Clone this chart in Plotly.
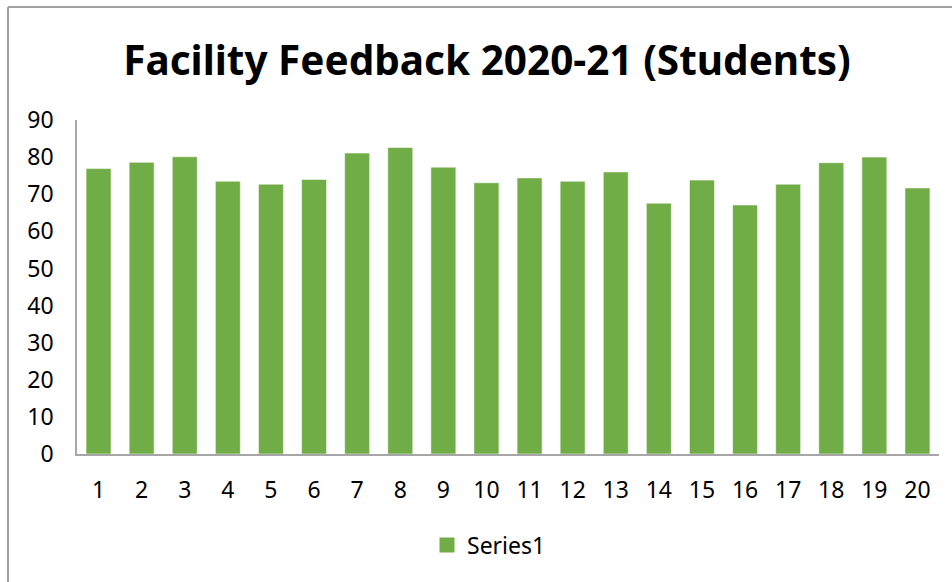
import plotly.graph_objects as go

# Facility feedback scores per item
items = [str(i) for i in range(1, 21)]
scores = [76.9, 78.6, 80.1, 73.5, 72.7, 74.0, 81.1, 82.6, 77.3, 73.1,
          74.4, 73.5, 76.0, 67.6, 73.8, 67.1, 72.7, 78.5, 80.0, 71.7]
y_ticks = [0, 10, 20, 30, 40, 50, 60, 70, 80, 90]

W, H = 952, 582
L, R, T, B = 77, 13, 120, 128
pw, ph = W - L - R, H - T - B


def px_x(p):
    return (p - L) / pw


def px_y(p):
    return (H - B - p) / ph


green = "#70AD47"
fig = go.Figure()
fig.add_trace(go.Bar(
    x=items, y=scores, name="Series1",
    marker=dict(color=green, line=dict(color="rgba(255,255,255,0.55)", width=1)),
    showlegend=False,
))
# legend entry only, with a bigger square swatch like Excel's
fig.add_trace(go.Scatter(
    x=[None], y=[None], mode="markers", name="Series1",
    marker=dict(symbol="square", size=15, color=green),
))

axis_font = dict(family="Noto Sans, Open Sans, sans-serif", size=23, color="#000000")

fig.update_layout(
    width=W, height=H,
    margin=dict(l=L, r=R, t=T, b=B),
    paper_bgcolor="white", plot_bgcolor="white",
    title=dict(
        text="<b>Facility Feedback 2020-21 (Students)</b>",
        x=487 / W, xref="container", xanchor="center",
        y=1 - 61 / H, yanchor="middle",
        font=dict(family="Noto Sans, sans-serif", size=40.5, color="#000000"),
    ),
    legend=dict(
        orientation="h", x=px_x(489), xanchor="center", y=px_y(545), yanchor="middle",
        font=axis_font, itemwidth=30,
    ),
    bargap=0.42,
    showlegend=True,
)
fig.update_xaxes(
    showgrid=False, showline=True, linecolor="#A6A6A6", linewidth=1.5,
    ticks="", tickfont=axis_font, ticklabelstandoff=15, zeroline=False,
)
fig.update_yaxes(
    range=[0, 90], tickvals=y_ticks, showgrid=False, showline=True,
    linecolor="#A6A6A6", linewidth=1.5, ticks="", tickfont=axis_font,
    ticklabelstandoff=17, zeroline=False,
)

# outer chart border (only top and left edges visible in the reference)
border = dict(color="#A0A0A0", width=2)
fig.add_shape(type="line", xref="paper", yref="paper",
              x0=px_x(8), x1=px_x(W + 5), y0=px_y(7), y1=px_y(7), line=border)
fig.add_shape(type="line", xref="paper", yref="paper",
              x0=px_x(8), x1=px_x(8), y0=px_y(7), y1=px_y(H + 5), line=border)

fig.write_html("out.html", config={"displayModeBar": False},
               post_script="document.body.style.margin='0';")
